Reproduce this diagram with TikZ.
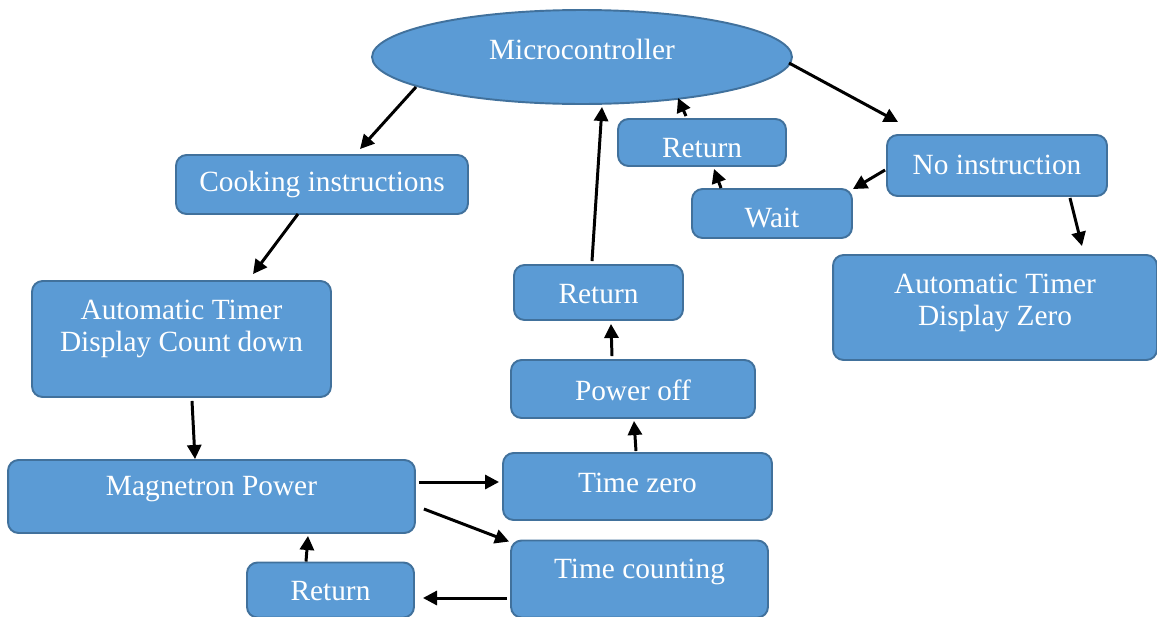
\documentclass[tikz,border=0pt]{standalone}
\usepackage{fontspec}
\setmainfont{Liberation Serif}
\usetikzlibrary{arrows.meta,shapes.geometric}
\definecolor{boxfill}{HTML}{5B9BD5}
\definecolor{boxline}{HTML}{41719C}
\begin{document}
\begin{tikzpicture}[x=0.02cm,y=-0.02cm,
  box/.style={draw=boxline,fill=boxfill,line width=1.1pt,rounded corners=6pt,inner sep=0pt},
  oval/.style={draw=boxline,fill=boxfill,line width=1.1pt,ellipse,inner sep=0pt},
  txt/.style={text=white,font=\fontsize{16.7}{18.5}\selectfont,align=center,inner sep=0pt},
  link/.style={-{Triangle[length=8pt,width=8pt]},line width=1.7pt,black}]
\useasboundingbox (0,0) rectangle (1157,616);

% shapes
\node[oval,minimum width=8.4cm,minimum height=1.88cm] (mc) at (582,57) {};
\node[box,minimum width=5.84cm,minimum height=1.18cm] (cook) at (322,184.5) {};
\node[box,minimum width=5.98cm,minimum height=2.32cm] (timer) at (181.5,339) {};
\node[box,minimum width=8.14cm,minimum height=1.46cm] (mag) at (211.5,496.5) {};
\node[box,minimum width=3.34cm,minimum height=1.1cm] (retB) at (330.5,590) {};
\node[box,minimum width=5.14cm,minimum height=1.54cm] (tcount) at (639.5,579) {};
\node[box,minimum width=5.38cm,minimum height=1.34cm] (tzero) at (637.5,486.5) {};
\node[box,minimum width=4.88cm,minimum height=1.16cm] (poff) at (633,389) {};
\node[box,minimum width=3.38cm,minimum height=1.1cm] (retM) at (598.5,292.5) {};
\node[box,minimum width=3.36cm,minimum height=0.94cm] (retT) at (702,142.5) {};
\node[box,minimum width=3.2cm,minimum height=0.98cm] (wait) at (772,213.5) {};
\node[box,minimum width=4.4cm,minimum height=1.22cm] (noinst) at (997,165.5) {};
\node[box,minimum width=6.48cm,minimum height=2.1cm] (zero) at (995,307.5) {};

% labels
\node[txt] (l-mc) at (582,49) {Microcontroller};
\node[txt] (l-cook) at (322,184) {Cooking instructions};
\node[txt] (l-timer) at (181.5,329) {Automatic Timer\\Display Count down};
\node[txt] (l-mag) at (211.5,489) {Magnetron Power};
\node[txt] (l-retB) at (330.5,591) {Return};
\node[txt] (l-tcount) at (639.5,572) {Time counting};
\node[txt] (l-tzero) at (637.5,483) {Time zero};
\node[txt] (l-poff) at (633,390) {Power off};
\node[txt] (l-retM) at (598.5,294) {Return};
\node[txt] (l-retT) at (702,148) {Return};
\node[txt] (l-wait) at (772,218) {Wait};
\node[txt] (l-noinst) at (997,165) {No instruction};
\node[txt] (l-zero) at (995,303) {Automatic Timer\\Display Zero};

% connectors
\draw[link] ([shift={(-166,30)}]mc.center) -- ([shift={(38,-5)}]cook.north);
\draw[link] ([shift={(-24,-1)}]cook.south) -- ([shift={(71.5,-6)}]timer.north);
\draw[link] ([shift={(10.5,3)}]timer.south) -- ([shift={(-16.5,0)}]mag.north);
\draw[link] ([shift={(3,-14.5)}]mag.east) -- ([shift={(-3,-4.5)}]tzero.west);
\draw[link] ([shift={(8,12.5)}]mag.east) -- ([shift={(-1,2)}]tcount.north west);
\draw[link] ([shift={(-3,19)}]tcount.west) -- ([shift={(8,8)}]retB.east);
\draw[link] ([shift={(-24.5,0)}]retB.north) -- ([shift={(96.5,2)}]mag.south);
\draw[link] ([shift={(-1.5,-1)}]tzero.north) -- ([shift={(1,2)}]poff.south);
\draw[link] ([shift={(-21,-3)}]poff.north) -- ([shift={(12.5,3)}]retM.south);
\draw[link] ([shift={(-6.5,-3)}]retM.north) -- ([shift={(20,2)}]mc.south);
\draw[link] ([shift={(207,6)}]mc.center) -- ([shift={(12,-12)}]noinst.north west);
\draw[link] ([shift={(-1,4.5)}]noinst.west) -- ([shift={(0,1)}]wait.north east);
\draw[link] ([shift={(-51,0)}]wait.north) -- ([shift={(12,2)}]retT.south);
\draw[link] ([shift={(-16,-2)}]retT.north) -- ([shift={(96,41)}]mc.center);
\draw[link] ([shift={(73,1)}]noinst.south) -- ([shift={(87,-8)}]zero.north);
\end{tikzpicture}
\end{document}
